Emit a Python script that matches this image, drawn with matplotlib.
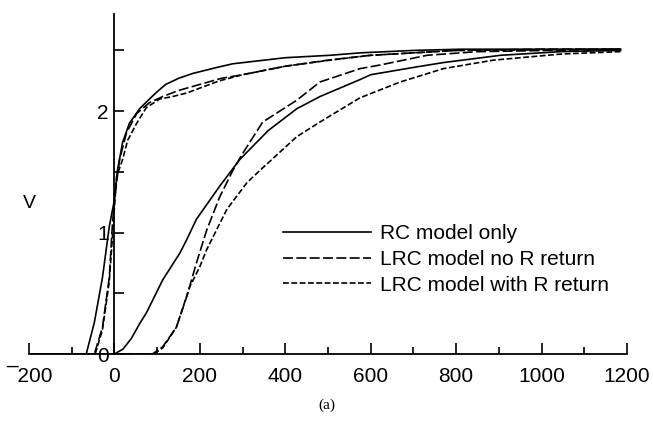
import matplotlib
matplotlib.use('Agg')
import matplotlib.pyplot as plt
from matplotlib.ticker import FixedLocator

plt.rcParams['font.family'] = ['Liberation Sans', 'DejaVu Sans']

# near end curves (fast rise around t = 0)
x_rc_near = [-200, -100, -66, -47, -28, -12, 0, 7, 19, 35, 59, 82, 100, 120, 150, 183, 240, 277, 400, 505, 575, 700, 810, 1000, 1185]
y_rc_near = [0, 0, 0, 0.26, 0.63, 1.05, 1.27, 1.51, 1.74, 1.90, 2.02, 2.10, 2.16, 2.22, 2.27, 2.31, 2.36, 2.39, 2.44, 2.46, 2.48, 2.50, 2.51, 2.51, 2.51]

x_lrc_near = [-200, -47, -28, -12, -5, 0, 12, 28, 52, 82, 113, 150, 200, 250, 300, 400, 500, 600, 700, 800, 1000, 1185]
y_lrc_near = [0, 0, 0.22, 0.63, 1.05, 1.27, 1.6, 1.82, 1.98, 2.07, 2.12, 2.17, 2.22, 2.27, 2.30, 2.37, 2.42, 2.46, 2.48, 2.50, 2.51, 2.51]

x_lrcr_near = [-200, -45, -28, -12, -3, 5, 19, 31, 52, 75, 106, 136, 170, 200, 246, 300, 400, 505, 600, 800, 1185]
y_lrcr_near = [0, 0, 0.2, 0.6, 1.05, 1.46, 1.6, 1.76, 1.90, 2.03, 2.10, 2.12, 2.15, 2.19, 2.25, 2.30, 2.37, 2.42, 2.46, 2.50, 2.51]

# far end curves (delayed)
x_rc_far = [-200, 0, 20, 40, 59, 75, 113, 153, 169, 192, 246, 293, 360, 427, 481, 575, 600, 700, 770, 904, 1045, 1185]
y_rc_far = [0, 0, 0.04, 0.13, 0.25, 0.34, 0.61, 0.83, 0.94, 1.11, 1.38, 1.60, 1.84, 2.02, 2.12, 2.26, 2.30, 2.36, 2.40, 2.46, 2.49, 2.50]

x_lrc_far = [-200, 89, 113, 145, 169, 192, 216, 246, 277, 300, 347, 427, 481, 575, 622, 732, 850, 1185]
y_lrc_far = [0, 0, 0.06, 0.22, 0.47, 0.75, 1.02, 1.29, 1.51, 1.65, 1.91, 2.09, 2.24, 2.35, 2.38, 2.46, 2.49, 2.51]

x_lrcr_far = [-200, 92, 113, 145, 176, 200, 216, 263, 310, 340, 427, 481, 575, 669, 770, 887, 1045, 1185]
y_lrcr_far = [0, 0, 0.05, 0.22, 0.55, 0.72, 0.86, 1.19, 1.41, 1.51, 1.79, 1.91, 2.11, 2.24, 2.35, 2.42, 2.47, 2.49]

labels = ['RC model only', 'LRC model no R return', 'LRC model with R return']
xticks = [-200, 0, 200, 400, 600, 800, 1000, 1200]
xticklabels = ['\u00af200', '0', '200', '400', '600', '800', '1000', '1200']
xminor = [-100, 100, 300, 500, 700, 900, 1100]
yticks = [0, 1, 2]
yminor = [0.5, 1.5, 2.5]

fig = plt.figure(figsize=(6.53, 4.32), dpi=100)
ax = fig.add_axes([29/653, 1-354/432, (627-29)/653, (354-14)/432])

lw = 1.2
dash = (0, (6, 2))
dot = (0, (3.5, 1.5))

l1, = ax.plot(x_rc_near, y_rc_near, color='k', lw=lw)
ax.plot(x_rc_far, y_rc_far, color='k', lw=lw)
l2, = ax.plot(x_lrc_near, y_lrc_near, color='k', lw=lw, linestyle=dash)
ax.plot(x_lrc_far, y_lrc_far, color='k', lw=lw, linestyle=dash)
l3, = ax.plot(x_lrcr_near, y_lrcr_near, color='k', lw=lw, linestyle=dot)
ax.plot(x_lrcr_far, y_lrcr_far, color='k', lw=lw, linestyle=dot)

ax.set_xlim(-200, 1200)
ax.set_ylim(0, 2.8)

ax.spines['top'].set_visible(False)
ax.spines['right'].set_visible(False)
ax.spines['left'].set_position(('data', 0))
ax.spines['left'].set_linewidth(1.3)
ax.spines['bottom'].set_linewidth(1.3)

ax.xaxis.set_major_locator(FixedLocator(xticks))
ax.xaxis.set_minor_locator(FixedLocator(xminor))
ax.set_xticklabels(xticklabels)
ax.yaxis.set_major_locator(FixedLocator(yticks))
ax.yaxis.set_minor_locator(FixedLocator(yminor))
ax.set_yticklabels([str(v) for v in yticks])

ax.tick_params(axis='x', which='major', direction='in', length=8, width=1.2, labelsize=15, pad=9)
ax.tick_params(axis='x', which='minor', direction='in', length=5, width=1.2)
ax.tick_params(axis='y', which='both', direction='in', length=7, width=1.2, labelsize=15, pad=4)

fig.text(29/653, 1-204/432, 'V', fontsize=14, ha='center', va='center')
fig.text(327/653, 1-405/432, '(a)', fontsize=11, ha='center', va='center', family='Liberation Serif')

ax.legend([l1, l2, l3], labels, loc='upper left', bbox_to_anchor=(283/653, 1-224/432),
          bbox_transform=fig.transFigure, frameon=False, fontsize=15, handlelength=4.2,
          handletextpad=0.45, labelspacing=0.33, borderpad=0, borderaxespad=0)

fig.savefig('out.png', dpi=100)
